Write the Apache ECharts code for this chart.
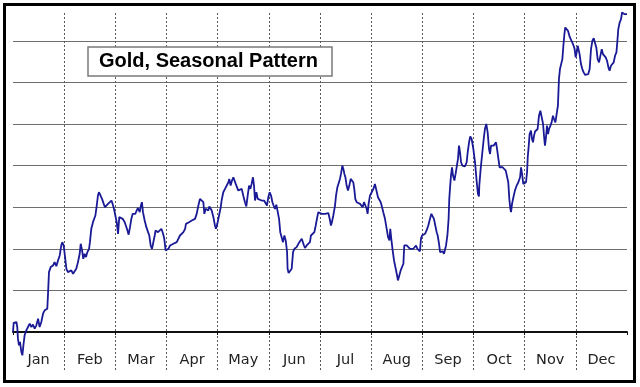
<!DOCTYPE html>
<html>
<head>
<meta charset="utf-8">
<script src="https://cdn.jsdelivr.net/npm/echarts@6/dist/echarts.min.js"></script>
<style>
html,body{margin:0;padding:0;background:#fff;}
#chart{width:640px;height:387px;}
</style>
</head>
<body>
<div id="chart"></div>
<script>
// Month labels (x axis categories)
const months = ['Jan','Feb','Mar','Apr','May','Jun','Jul','Aug','Sep','Oct','Nov','Dec'];

// Position in the year (30-day months, 0..360) and seasonal value (one grid step = 1 unit)
const daysQ1 = [0.0,0.4,2.0,2.5,2.9,3.5,4.1,4.9,5.5,6.1,6.8,7.8,8.8,9.8,10.8,11.7,12.7,13.7,14.7,15.6,16.6,17.6,18.6,20.1,20.5,21.1,22.1,23.5,24.4,25.4,26.4,27.4,28.3,28.9,29.7,30.3,31.3,32.2,33.2,34.2,35.2,36.2,37.1,38.1,39.1,39.7,40.5,41.2,42.0,42.8,43.6,44.6,45.1,45.9,46.9,48.3,49.1,49.8,50.4,51.4,52.2,53.2,53.9,54.9,55.7,56.5,57.7,58.4,59.2,60.0,60.8,61.6,62.3,63.1,64.3,65.5,66.8,67.8,68.6,69.4,70.2,70.9,71.7,72.5,73.3,74.3,75.1,75.6,76.2,77.2,78.2,79.2,79.9,80.7,81.5,82.3,83.1,83.6,84.4,85.0,86.0,87.0,88.0,88.7,89.5,90.5];
const valsQ1 = [0,0.22,0.24,0.12,-0.16,-0.32,-0.24,-0.48,-0.56,-0.32,-0.08,0.04,0.12,0.20,0.12,0.18,0.08,0.16,0.32,0.12,0.24,0.44,0.52,0.56,0.88,1.44,1.56,1.60,1.68,1.58,1.72,1.84,2.08,2.16,2.08,1.88,1.52,1.44,1.44,1.48,1.40,1.36,1.52,1.68,1.88,2.12,1.96,1.76,1.88,1.80,1.92,2.00,2.16,2.48,2.64,2.80,3.04,3.28,3.36,3.32,3.20,3.08,3.00,3.04,3.08,3.12,3.16,3.08,2.96,2.80,2.64,2.36,2.76,2.78,2.72,2.64,2.48,2.34,2.52,2.72,2.84,2.88,2.84,2.92,2.98,2.88,3.06,3.12,2.88,2.68,2.52,2.40,2.32,2.08,2.00,2.00,2.32,2.44,2.48,2.40,2.36,2.48,2.36,2.24,1.96,1.92];

const daysQ2 = [91.1,92.1,93.0,94.0,95.0,96.0,96.9,97.9,98.9,99.9,100.9,101.4,102.2,103.2,103.8,104.8,105.7,106.7,107.7,108.7,109.6,110.6,111.6,112.2,113.0,113.7,114.5,115.1,115.9,116.5,117.5,118.4,119.0,119.8,120.8,121.8,122.3,123.3,124.3,125.3,126.3,126.8,127.6,128.4,129.2,129.8,130.6,131.3,132.1,133.1,134.1,135.0,136.0,136.8,137.6,138.4,139.2,139.9,140.7,141.3,141.9,142.7,143.5,144.4,145.8,147.2,148.1,148.9,149.7,150.5,151.3,152.1,152.8,153.6,154.4,155.2,156.0,156.7,157.5,158.3,159.1,159.9,160.7,161.0,161.6,162.6,163.4,164.2,165.0,166.3,167.3,168.3,169.3,169.8,170.6,171.2,172.2,173.2,174.1,174.7,175.7,176.7,177.5,178.2,179.0,180.0,181.0,182.0];
const valsQ2 = [2.00,2.08,2.06,2.12,2.10,2.16,2.20,2.32,2.36,2.40,2.48,2.60,2.56,2.64,2.60,2.68,2.64,2.72,2.84,3.04,3.20,3.24,3.12,2.84,2.96,3.00,2.92,3.02,3.00,2.92,2.76,2.56,2.48,2.60,2.80,3.00,3.16,3.36,3.44,3.44,3.60,3.68,3.52,3.64,3.72,3.74,3.56,3.52,3.40,3.40,3.44,3.28,3.12,3.02,3.28,3.52,3.44,3.56,3.72,3.52,3.16,3.36,3.20,3.16,3.16,3.16,3.12,3.04,3.24,3.36,3.28,3.12,3.04,2.96,3.06,3.04,2.72,2.40,2.36,2.16,2.32,2.20,1.92,1.52,1.42,1.42,1.52,1.92,2.00,2.04,2.12,2.16,2.24,2.20,2.08,2.02,2.08,2.10,2.16,2.32,2.36,2.40,2.56,2.72,2.88,2.88,2.84,2.80];

const daysQ3 = [182.9,183.9,184.9,185.9,186.4,187.0,187.8,188.8,189.4,190.2,190.9,191.7,192.3,193.1,193.7,194.3,194.9,195.6,196.4,197.2,198.0,198.8,199.5,200.1,200.7,201.5,202.5,203.5,204.4,205.0,205.8,206.6,207.4,207.9,208.5,209.3,210.3,211.3,212.2,213.2,214.0,214.8,215.6,216.4,217.1,218.1,219.1,219.9,220.7,221.2,221.8,222.6,223.4,224.2,225.0,225.7,226.5,227.3,228.1,228.9,229.4,230.0,230.8,231.8,232.8,233.7,234.7,235.7,236.3,237.1,238.0,238.6,239.2,239.8,240.6,241.6,242.5,243.5,244.5,245.3,246.1,246.8,247.6,248.4,249.0,249.8,250.4,251.1,251.9,252.7,253.3,253.9,254.7,255.4,255.8,256.2,256.8,257.4,258.0,258.8,259.5,260.1,260.9,261.5,262.1,262.7,263.5,264.2,265.0,266.0,266.6,267.4,268.1,268.9,269.9,270.9,271.9,272.6,273.2];
const valsQ3 = [2.84,2.80,2.86,2.68,2.56,2.64,2.80,3.04,3.28,3.48,3.52,3.68,3.80,4.00,3.92,3.80,3.72,3.52,3.40,3.52,3.68,3.70,3.60,3.44,3.20,3.12,3.16,3.08,3.12,3.00,3.12,3.04,2.96,2.84,3.08,3.28,3.36,3.44,3.56,3.52,3.24,3.20,3.12,3.00,2.88,2.72,2.48,2.28,2.20,2.48,2.24,1.96,1.72,1.56,1.40,1.24,1.36,1.48,1.52,1.64,2.08,2.12,2.08,2.08,2.00,1.96,2.00,2.04,2.08,2.00,1.96,1.94,2.24,2.32,2.34,2.36,2.44,2.56,2.72,2.84,2.80,2.72,2.56,2.40,2.32,2.12,1.92,1.96,1.94,1.88,1.84,2.08,2.32,2.72,3.20,3.44,3.76,3.96,3.76,3.64,3.80,3.84,4.16,4.48,4.32,4.08,4.00,4.00,3.98,4.08,4.32,4.56,4.70,4.64,4.40,4.08,3.60,3.32,3.26];

const daysQ4 = [273.4,274.2,275.2,276.0,276.7,277.5,278.3,279.1,279.7,280.3,281.0,281.8,282.6,283.2,283.8,284.6,285.3,286.1,287.1,288.1,288.9,289.6,290.4,291.0,291.6,292.0,292.6,293.4,294.3,295.3,296.3,297.3,297.9,298.6,299.2,300.2,300.8,301.4,301.8,302.4,302.9,303.7,304.3,304.9,305.5,306.1,307.0,307.6,308.4,309.2,310.0,310.8,311.5,311.9,312.5,313.1,313.7,314.3,315.1,315.8,316.6,317.2,318.0,318.8,319.5,320.1,320.7,321.3,322.1,322.7,323.3,323.8,324.6,325.4,326.2,327.0,327.9,328.7,329.3,329.9,330.5,331.1,331.7,332.2,333.0,333.8,334.6,335.4,336.4,337.3,338.1,338.9,339.7,340.5,341.2,342.0,342.8,343.6,344.4,345.2,345.9,346.7,347.5,348.3,349.1,349.8,350.6,351.4,352.2,353.0,353.8,354.3,354.9,355.7,356.5,357.1,357.8,358.6,359.4,360.0];
const valsQ4 = [3.52,3.92,4.32,4.64,4.88,5.00,4.80,4.40,4.28,4.48,4.48,4.48,4.48,4.56,4.40,4.16,3.96,3.94,3.96,3.92,3.88,3.84,3.60,3.20,2.96,2.88,3.08,3.24,3.40,3.52,3.60,3.72,3.96,3.76,3.56,3.54,3.60,3.84,4.20,4.48,4.76,4.84,4.64,4.56,4.72,4.82,4.80,4.88,5.20,5.32,5.28,5.00,4.64,4.48,4.68,4.96,4.76,4.88,4.96,5.04,5.20,5.12,5.04,5.08,5.44,6.08,6.32,6.36,6.56,6.88,7.16,7.32,7.34,7.24,7.12,7.04,6.96,6.88,6.80,6.60,6.72,6.88,6.84,6.68,6.44,6.32,6.24,6.18,6.16,6.20,6.32,6.80,7.00,7.06,7.04,6.84,6.56,6.48,6.52,6.80,6.68,6.64,6.60,6.52,6.36,6.28,6.40,6.44,6.48,6.64,6.72,6.96,7.28,7.44,7.52,7.68,7.70,7.64,7.60,7.64];

const days = daysQ1.concat(daysQ2, daysQ3, daysQ4);
const values = valsQ1.concat(valsQ2, valsQ3, valsQ4);
const seriesData = days.map((d, i) => [d, values[i]]);

const chart = echarts.init(document.getElementById('chart'), null, {renderer: 'canvas'});
const dashed = {show: true, showMinLine: false, showMaxLine: false, lineStyle: {color: '#5a5a5a', width: 1, type: [2, 2]}};

chart.setOption({
  animation: false,
  backgroundColor: '#ffffff',
  title: {
    text: 'Gold, Seasonal Pattern',
    left: 88, top: 47,
    padding: [4, 14, 4, 11],
    backgroundColor: '#ffffff',
    borderColor: '#7a7a7a',
    borderWidth: 1.5,
    textStyle: {fontFamily: 'Liberation Sans, Arial, sans-serif', fontWeight: 'bold', fontSize: 20, lineHeight: 21, color: '#000'}
  },
  graphic: [{
    type: 'rect', z: 100, silent: true,
    shape: {x: 4.5, y: 4.5, width: 630, height: 377},
    style: {fill: 'none', stroke: '#000', lineWidth: 3}
  }],
  grid: [
    {left: 13, right: 13, top: 13, bottom: 55},
    {left: 13, right: 13, top: 332, bottom: 17}
  ],
  xAxis: [
    {type: 'value', gridIndex: 0, min: 0, max: 360, interval: 30,
     axisLine: {show: false}, axisTick: {show: false}, axisLabel: {show: false}, splitLine: dashed},
    {type: 'category', gridIndex: 0, data: months, boundaryGap: true, position: 'bottom',
     axisLine: {show: true, onZero: false, lineStyle: {color: '#111', width: 2}},
     axisTick: {show: true, length: 3, lineStyle: {color: '#111', width: 1}},
     axisLabel: {margin: 21, fontFamily: 'DejaVu Sans, Verdana, sans-serif', fontSize: 14.5, color: '#222'},
     splitLine: {show: false}},
    {type: 'value', gridIndex: 1, min: 0, max: 360, interval: 30,
     axisLine: {show: false}, axisTick: {show: false}, axisLabel: {show: false}, splitLine: dashed}
  ],
  yAxis: [
    {type: 'value', gridIndex: 0, min: 0, max: 7.668, interval: 1,
     axisLine: {show: false}, axisTick: {show: false}, axisLabel: {show: false},
     splitLine: {show: true, showMinLine: false, showMaxLine: false, lineStyle: {color: '#6e6e6e', width: 1}}},
    {type: 'value', gridIndex: 1, min: 0, max: 1, show: false, splitLine: {show: false}}
  ],
  series: [{
    type: 'line', xAxisIndex: 0, yAxisIndex: 0,
    data: seriesData, showSymbol: false, clip: false, z: 5,
    lineStyle: {color: '#1a1a96', width: 1.8}
  }]
});
</script>
</body>
</html>
